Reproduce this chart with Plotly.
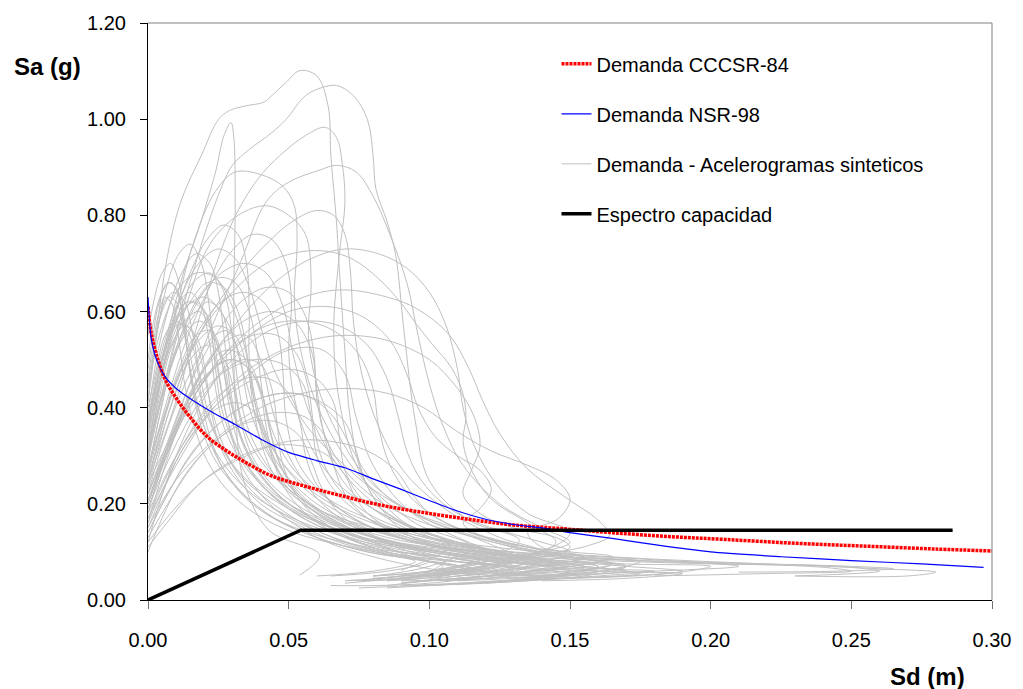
import plotly.graph_objects as go

# ---------------- axis ticks ----------------
x_ticks = [0.00, 0.05, 0.10, 0.15, 0.20, 0.25, 0.30]
y_ticks = [0.00, 0.20, 0.40, 0.60, 0.80, 1.00, 1.20]

# ---------------- code spectra ----------------
sd_cccsr = [0, 0.001, 0.003, 0.006, 0.010, 0.015, 0.021, 0.028, 0.035, 0.044, 0.055, 0.068,
            0.083, 0.100, 0.115, 0.130, 0.148, 0.165, 0.185, 0.205, 0.230, 0.255, 0.280, 0.300]
sa_cccsr = [0.61, 0.56, 0.51, 0.46, 0.42, 0.38, 0.34, 0.31, 0.285, 0.258, 0.238, 0.218,
            0.197, 0.180, 0.167, 0.156, 0.148, 0.140, 0.132, 0.126, 0.118, 0.112, 0.106, 0.102]

sd_nsr = [0, 0.001, 0.003, 0.006, 0.010, 0.016, 0.023, 0.031, 0.040, 0.050, 0.060, 0.070, 0.080,
          0.090, 0.100, 0.110, 0.120, 0.130, 0.140, 0.150, 0.165, 0.180, 0.200, 0.225, 0.250, 0.275, 0.297]
sa_nsr = [0.63, 0.55, 0.50, 0.465, 0.44, 0.415, 0.39, 0.365, 0.335, 0.307, 0.290, 0.275, 0.252,
          0.230, 0.207, 0.185, 0.168, 0.157, 0.150, 0.140, 0.128, 0.115, 0.100, 0.090, 0.082, 0.075, 0.068]

# capacity spectrum
sd_cap = [0, 0.0543, 0.286]
sa_cap = [0, 0.145, 0.145]

# ---------------- synthetic accelerogram demand curves ----------------
sd_g01 = [0, 0.007, 0.012, 0.019, 0.025, 0.029, 0.035, 0.041, 0.044, 0.049, 0.054, 0.060, 0.064, 0.065, 0.067, 0.068, 0.070, 0.072, 0.077, 0.090, 0.107, 0.097, 0.072]
sa_g01 = [0.414, 0.718, 0.834, 0.925, 0.999, 1.018, 1.028, 1.035, 1.049, 1.076, 1.101, 1.090, 1.028, 0.925, 0.786, 0.689, 0.517, 0.372, 0.248, 0.145, 0.093, 0.052, 0.041]
sd_g02 = [0, 0.006, 0.015, 0.025, 0.030, 0.036, 0.044, 0.049, 0.056, 0.062, 0.067, 0.073, 0.078, 0.080, 0.081, 0.085, 0.088, 0.091, 0.095, 0.100, 0.114, 0.132, 0.118, 0.090]
sa_g02 = [0.310, 0.455, 0.662, 0.842, 0.904, 0.937, 0.972, 0.999, 1.049, 1.066, 1.070, 1.049, 0.999, 0.925, 0.855, 0.786, 0.718, 0.559, 0.372, 0.248, 0.166, 0.124, 0.083, 0.052]
sd_g03 = [0, 0.012, 0.018, 0.024, 0.027, 0.0295, 0.0305, 0.031, 0.0305, 0.031, 0.034, 0.043, 0.061, 0.054]
sa_g03 = [0.372, 0.668, 0.772, 0.890, 0.966, 0.993, 0.962, 0.828, 0.621, 0.414, 0.248, 0.145, 0.093, 0.052]
sd_g04 = [0, 0.010, 0.020, 0.030, 0.039, 0.047, 0.056, 0.063, 0.067, 0.069, 0.070, 0.068, 0.066, 0.068, 0.075, 0.090, 0.107, 0.090]
sa_g04 = [0.248, 0.414, 0.621, 0.786, 0.875, 0.925, 0.966, 0.983, 0.962, 0.910, 0.828, 0.718, 0.559, 0.414, 0.269, 0.166, 0.114, 0.062]
sd_g05 = [0, 0.010, 0.022, 0.033, 0.042, 0.050, 0.061, 0.067, 0.074, 0.080, 0.086, 0.092, 0.096, 0.100, 0.105, 0.112, 0.125, 0.140, 0.150, 0.130, 0.110]
sa_g05 = [0.207, 0.372, 0.559, 0.704, 0.828, 0.869, 0.894, 0.904, 0.890, 0.840, 0.760, 0.660, 0.550, 0.450, 0.360, 0.280, 0.200, 0.150, 0.120, 0.090, 0.070]
sd_g06 = [0, 0.008, 0.016, 0.024, 0.031, 0.040, 0.048, 0.052, 0.053, 0.052, 0.055, 0.062, 0.075, 0.095, 0.115, 0.100, 0.080]
sa_g06 = [0.35, 0.55, 0.74, 0.85, 0.89, 0.885, 0.86, 0.82, 0.74, 0.62, 0.50, 0.38, 0.26, 0.16, 0.11, 0.07, 0.05]
sd_g07 = [0, 0.006, 0.014, 0.022, 0.032, 0.042, 0.050, 0.056, 0.058, 0.057, 0.060, 0.068, 0.080, 0.098, 0.120, 0.130, 0.110, 0.090]
sa_g07 = [0.30, 0.45, 0.62, 0.74, 0.80, 0.82, 0.80, 0.76, 0.66, 0.55, 0.45, 0.34, 0.24, 0.17, 0.12, 0.09, 0.06, 0.045]
sd_g08 = [0, 0.008, 0.018, 0.030, 0.042, 0.052, 0.060, 0.066, 0.070, 0.072, 0.073, 0.076, 0.082, 0.092, 0.108, 0.125, 0.140, 0.120, 0.095]
sa_g08 = [0.25, 0.40, 0.55, 0.66, 0.74, 0.79, 0.81, 0.80, 0.76, 0.68, 0.58, 0.47, 0.36, 0.26, 0.18, 0.13, 0.10, 0.07, 0.05]
sd_g09 = [0, 0.010, 0.020, 0.032, 0.045, 0.058, 0.070, 0.082, 0.092, 0.100, 0.106, 0.110, 0.112, 0.116, 0.124, 0.135, 0.150, 0.140, 0.120, 0.100]
sa_g09 = [0.22, 0.36, 0.48, 0.58, 0.66, 0.71, 0.73, 0.72, 0.69, 0.64, 0.57, 0.48, 0.40, 0.32, 0.24, 0.18, 0.14, 0.10, 0.08, 0.06]
sd_g10 = [0, 0.008, 0.018, 0.030, 0.045, 0.058, 0.070, 0.085, 0.0955, 0.107, 0.114, 0.119, 0.125, 0.1345, 0.149, 0.160, 0.164, 0.157, 0.139, 0.120]
sa_g10 = [0.20, 0.32, 0.44, 0.53, 0.60, 0.635, 0.645, 0.63, 0.606, 0.552, 0.482, 0.414, 0.346, 0.275, 0.211, 0.166, 0.134, 0.114, 0.093, 0.075]
sd_g11 = [0, 0.008, 0.018, 0.030, 0.042, 0.054, 0.064, 0.073, 0.082, 0.0895, 0.0955, 0.101, 0.108, 0.112, 0.113, 0.112, 0.115, 0.122, 0.135, 0.145, 0.130, 0.110]
sa_g11 = [0.28, 0.42, 0.55, 0.64, 0.70, 0.724, 0.725, 0.708, 0.668, 0.621, 0.573, 0.532, 0.482, 0.428, 0.379, 0.330, 0.270, 0.210, 0.160, 0.120, 0.085, 0.060]
sd_g12 = [0, 0.010, 0.022, 0.036, 0.052, 0.068, 0.085, 0.100, 0.110, 0.116, 0.118, 0.115, 0.112, 0.118, 0.130, 0.145, 0.150, 0.130, 0.105]
sa_g12 = [0.18, 0.30, 0.40, 0.48, 0.53, 0.55, 0.54, 0.50, 0.44, 0.38, 0.32, 0.27, 0.22, 0.18, 0.15, 0.13, 0.11, 0.08, 0.06]
sd_g13 = [0, 0.010, 0.025, 0.040, 0.055, 0.070, 0.085, 0.098, 0.110, 0.122, 0.135, 0.145, 0.150, 0.146, 0.135, 0.140, 0.155, 0.140, 0.110]
sa_g13 = [0.15, 0.25, 0.34, 0.40, 0.43, 0.44, 0.43, 0.40, 0.35, 0.31, 0.28, 0.25, 0.21, 0.17, 0.14, 0.11, 0.09, 0.07, 0.05]
sd_g14 = [0, 0.004, 0.010, 0.016, 0.022, 0.027, 0.030, 0.032, 0.036, 0.045, 0.060, 0.080, 0.100, 0.130, 0.160, 0.190, 0.210, 0.180, 0.140]
sa_g14 = [0.30, 0.45, 0.58, 0.66, 0.68, 0.64, 0.55, 0.45, 0.35, 0.26, 0.19, 0.15, 0.12, 0.10, 0.09, 0.08, 0.07, 0.06, 0.05]
sd_g15 = [0, 0.003, 0.007, 0.011, 0.015, 0.019, 0.022, 0.024, 0.027, 0.034, 0.045, 0.060, 0.080, 0.110, 0.150, 0.200, 0.245, 0.260, 0.230]
sa_g15 = [0.42, 0.55, 0.66, 0.72, 0.74, 0.70, 0.60, 0.48, 0.38, 0.29, 0.22, 0.17, 0.13, 0.10, 0.085, 0.075, 0.07, 0.06, 0.05]
sd_g16 = [0, 0.005, 0.012, 0.020, 0.028, 0.034, 0.040, 0.050, 0.065, 0.085, 0.110, 0.140, 0.180, 0.220, 0.260, 0.280, 0.270, 0.230]
sa_g16 = [0.35, 0.50, 0.60, 0.63, 0.58, 0.47, 0.36, 0.27, 0.20, 0.15, 0.12, 0.10, 0.085, 0.075, 0.065, 0.058, 0.05, 0.05]
sd_g17 = [0, 0.004, 0.010, 0.018, 0.026, 0.034, 0.040, 0.044, 0.046, 0.048, 0.055, 0.068, 0.085, 0.100, 0.120, 0.105, 0.085]
sa_g17 = [0.12, 0.20, 0.30, 0.40, 0.47, 0.50, 0.49, 0.44, 0.36, 0.28, 0.20, 0.14, 0.10, 0.085, 0.07, 0.05, 0.04]
sd_g18 = [0, 0.003, 0.007, 0.012, 0.017, 0.022, 0.025, 0.028, 0.033, 0.042, 0.055, 0.072, 0.090, 0.110, 0.130, 0.115, 0.090]
sa_g18 = [0.28, 0.40, 0.52, 0.60, 0.62, 0.58, 0.48, 0.38, 0.30, 0.23, 0.17, 0.13, 0.10, 0.08, 0.065, 0.045, 0.04]
sd_g19 = [0, 0.002, 0.005, 0.009, 0.013, 0.016, 0.019, 0.023, 0.030, 0.040, 0.055, 0.070, 0.090, 0.105, 0.090, 0.070]
sa_g19 = [0.45, 0.52, 0.60, 0.64, 0.62, 0.55, 0.45, 0.36, 0.28, 0.22, 0.16, 0.12, 0.09, 0.07, 0.05, 0.04]
sd_g20 = [0, 0.002, 0.005, 0.008, 0.011, 0.013, 0.016, 0.020, 0.026, 0.035, 0.050, 0.065, 0.080, 0.100, 0.120, 0.100]
sa_g20 = [0.55, 0.62, 0.68, 0.70, 0.66, 0.58, 0.48, 0.40, 0.32, 0.25, 0.19, 0.15, 0.12, 0.10, 0.08, 0.06]
sd_g21 = [0, 0.006, 0.014, 0.024, 0.034, 0.044, 0.052, 0.058, 0.060, 0.062, 0.066, 0.075, 0.090, 0.105, 0.120, 0.135, 0.120, 0.100]
sa_g21 = [0.20, 0.30, 0.42, 0.52, 0.58, 0.60, 0.58, 0.52, 0.44, 0.36, 0.28, 0.21, 0.16, 0.12, 0.10, 0.08, 0.06, 0.05]
sd_g22 = [0, 0.006, 0.014, 0.025, 0.038, 0.050, 0.060, 0.066, 0.068, 0.070, 0.076, 0.088, 0.100, 0.115, 0.130, 0.145, 0.130, 0.110]
sa_g22 = [0.16, 0.24, 0.33, 0.41, 0.46, 0.48, 0.46, 0.41, 0.34, 0.27, 0.21, 0.16, 0.13, 0.11, 0.09, 0.075, 0.055, 0.045]
sd_g23 = [0, 0.004, 0.009, 0.015, 0.021, 0.027, 0.032, 0.035, 0.037, 0.040, 0.046, 0.058, 0.075, 0.095, 0.115, 0.130, 0.110, 0.090]
sa_g23 = [0.32, 0.44, 0.55, 0.62, 0.66, 0.65, 0.60, 0.52, 0.42, 0.33, 0.25, 0.19, 0.14, 0.11, 0.09, 0.07, 0.05, 0.035]
sd_g24 = [0, 0.003, 0.007, 0.012, 0.017, 0.022, 0.025, 0.027, 0.029, 0.032, 0.038, 0.048, 0.062, 0.080, 0.100, 0.120, 0.100, 0.080]
sa_g24 = [0.38, 0.50, 0.60, 0.68, 0.72, 0.70, 0.64, 0.55, 0.45, 0.36, 0.28, 0.21, 0.16, 0.12, 0.10, 0.08, 0.06, 0.05]
sd_g25 = [0, 0.005, 0.011, 0.018, 0.026, 0.034, 0.041, 0.046, 0.048, 0.049, 0.053, 0.062, 0.076, 0.095, 0.115, 0.140, 0.160, 0.140, 0.110]
sa_g25 = [0.25, 0.36, 0.47, 0.56, 0.62, 0.64, 0.62, 0.56, 0.47, 0.38, 0.29, 0.22, 0.16, 0.12, 0.10, 0.08, 0.07, 0.05, 0.04]
sd_g26 = [0, 0.002, 0.005, 0.008, 0.011, 0.013, 0.015, 0.018, 0.023, 0.032, 0.045, 0.060, 0.078, 0.095, 0.080, 0.060]
sa_g26 = [0.50, 0.58, 0.64, 0.66, 0.63, 0.56, 0.47, 0.38, 0.30, 0.23, 0.17, 0.13, 0.10, 0.08, 0.06, 0.05]
sd_g27 = [0, 0.008, 0.018, 0.030, 0.042, 0.055, 0.066, 0.075, 0.080, 0.082, 0.086, 0.094, 0.106, 0.120, 0.135, 0.150, 0.165, 0.150, 0.120]
sa_g27 = [0.22, 0.33, 0.44, 0.52, 0.57, 0.58, 0.56, 0.51, 0.44, 0.36, 0.28, 0.21, 0.16, 0.13, 0.11, 0.09, 0.075, 0.055, 0.045]
sd_g28 = [0, 0.007, 0.016, 0.028, 0.040, 0.052, 0.062, 0.070, 0.074, 0.077, 0.083, 0.094, 0.110, 0.125, 0.140, 0.125, 0.100]
sa_g28 = [0.14, 0.22, 0.31, 0.38, 0.42, 0.43, 0.41, 0.37, 0.31, 0.25, 0.19, 0.15, 0.12, 0.10, 0.08, 0.06, 0.045]
sd_g29 = [0, 0.002, 0.005, 0.009, 0.013, 0.017, 0.020, 0.022, 0.025, 0.031, 0.040, 0.052, 0.068, 0.085, 0.100, 0.085, 0.065]
sa_g29 = [0.30, 0.38, 0.47, 0.54, 0.57, 0.55, 0.49, 0.41, 0.33, 0.26, 0.20, 0.16, 0.12, 0.095, 0.08, 0.06, 0.05]
sd_g30 = [0, 0.004, 0.009, 0.016, 0.023, 0.030, 0.036, 0.040, 0.042, 0.045, 0.050, 0.060, 0.075, 0.092, 0.110, 0.125, 0.110, 0.090]
sa_g30 = [0.18, 0.26, 0.35, 0.43, 0.48, 0.50, 0.48, 0.43, 0.36, 0.29, 0.23, 0.18, 0.14, 0.11, 0.09, 0.075, 0.055, 0.04]
sd_g31 = [0, 0.003, 0.006, 0.010, 0.014, 0.017, 0.019, 0.022, 0.027, 0.035, 0.046, 0.060, 0.078, 0.095, 0.110, 0.095, 0.075]
sa_g31 = [0.40, 0.48, 0.55, 0.58, 0.56, 0.50, 0.42, 0.34, 0.27, 0.21, 0.165, 0.13, 0.10, 0.085, 0.07, 0.05, 0.04]
sd_g32 = [0, 0.005, 0.012, 0.022, 0.034, 0.046, 0.056, 0.063, 0.066, 0.070, 0.078, 0.090, 0.105, 0.120, 0.135, 0.120, 0.095]
sa_g32 = [0.10, 0.17, 0.25, 0.32, 0.37, 0.39, 0.38, 0.34, 0.28, 0.22, 0.17, 0.135, 0.11, 0.09, 0.07, 0.05, 0.04]
sd_g33 = [0, 0.006, 0.013, 0.021, 0.029, 0.037, 0.044, 0.049, 0.051, 0.050, 0.052, 0.057, 0.066, 0.080, 0.098, 0.118, 0.135, 0.120, 0.100]
sa_g33 = [0.27, 0.40, 0.53, 0.64, 0.72, 0.76, 0.75, 0.70, 0.62, 0.52, 0.42, 0.33, 0.25, 0.19, 0.14, 0.11, 0.09, 0.065, 0.05]
sd_g34 = [0, 0.004, 0.009, 0.015, 0.021, 0.027, 0.032, 0.035, 0.036, 0.036, 0.039, 0.045, 0.056, 0.072, 0.090, 0.110, 0.130, 0.110, 0.090]
sa_g34 = [0.33, 0.46, 0.58, 0.68, 0.75, 0.78, 0.76, 0.70, 0.60, 0.50, 0.40, 0.31, 0.23, 0.17, 0.13, 0.10, 0.08, 0.06, 0.045]
sd_g35 = [0, 0.010, 0.022, 0.036, 0.050, 0.064, 0.076, 0.086, 0.092, 0.096, 0.102, 0.110, 0.118, 0.122, 0.118, 0.112, 0.120, 0.135, 0.150, 0.165, 0.150, 0.125]
sa_g35 = [0.24, 0.36, 0.47, 0.55, 0.60, 0.61, 0.59, 0.54, 0.47, 0.40, 0.34, 0.30, 0.27, 0.23, 0.19, 0.16, 0.13, 0.11, 0.10, 0.09, 0.07, 0.055]
sd_g36 = [0, 0.005, 0.011, 0.018, 0.025, 0.031, 0.036, 0.040, 0.044, 0.050, 0.058, 0.068, 0.080, 0.095, 0.115, 0.135, 0.155, 0.175, 0.160, 0.130]
sa_g36 = [0.36, 0.50, 0.62, 0.70, 0.73, 0.71, 0.65, 0.57, 0.49, 0.42, 0.35, 0.29, 0.23, 0.18, 0.14, 0.11, 0.09, 0.08, 0.06, 0.05]
sd_g37 = [0, 0.006, 0.015, 0.026, 0.038, 0.048, 0.055, 0.058, 0.060, 0.066, 0.078, 0.095, 0.120, 0.150, 0.180, 0.210, 0.240, 0.250, 0.220, 0.180]
sa_g37 = [0.20, 0.30, 0.40, 0.47, 0.50, 0.49, 0.45, 0.38, 0.30, 0.23, 0.17, 0.13, 0.105, 0.09, 0.08, 0.075, 0.068, 0.06, 0.055, 0.05]
sd_g38 = [0, 0.002, 0.004, 0.007, 0.010, 0.012, 0.014, 0.016, 0.020, 0.026, 0.035, 0.048, 0.065, 0.085, 0.105, 0.120, 0.100, 0.080]
sa_g38 = [0.48, 0.56, 0.62, 0.66, 0.65, 0.60, 0.52, 0.44, 0.36, 0.29, 0.23, 0.18, 0.14, 0.11, 0.09, 0.075, 0.055, 0.045]
sd_g39 = [0, 0.008, 0.020, 0.035, 0.050, 0.065, 0.078, 0.088, 0.094, 0.100, 0.110, 0.125, 0.140, 0.155, 0.170, 0.155, 0.130]
sa_g39 = [0.12, 0.18, 0.25, 0.30, 0.33, 0.33, 0.31, 0.27, 0.22, 0.18, 0.15, 0.12, 0.10, 0.085, 0.07, 0.05, 0.04]
sd_g40 = [0, 0.004, 0.009, 0.015, 0.021, 0.026, 0.029, 0.031, 0.034, 0.040, 0.050, 0.065, 0.085, 0.110, 0.140, 0.170, 0.200, 0.185, 0.150]
sa_g40 = [0.26, 0.38, 0.50, 0.58, 0.62, 0.60, 0.53, 0.44, 0.36, 0.29, 0.23, 0.175, 0.135, 0.105, 0.085, 0.075, 0.07, 0.055, 0.045]
sd_g41 = [0, 0.006, 0.014, 0.022, 0.028, 0.032, 0.036, 0.045, 0.060, 0.080, 0.100, 0.120, 0.140, 0.120, 0.095, 0.075]
sa_g41 = [0.22, 0.34, 0.46, 0.54, 0.56, 0.52, 0.40, 0.28, 0.18, 0.12, 0.08, 0.06, 0.045, 0.035, 0.03, 0.025]
sd_g42 = [0, 0.005, 0.012, 0.020, 0.028, 0.035, 0.040, 0.044, 0.050, 0.062, 0.080, 0.100, 0.125, 0.150, 0.130, 0.100, 0.085]
sa_g42 = [0.16, 0.26, 0.38, 0.48, 0.54, 0.55, 0.50, 0.40, 0.30, 0.20, 0.13, 0.09, 0.07, 0.055, 0.04, 0.03, 0.025]
sd_g43 = [0, 0.003, 0.008, 0.014, 0.020, 0.024, 0.028, 0.034, 0.045, 0.060, 0.080, 0.100, 0.118, 0.100, 0.080, 0.065]
sa_g43 = [0.36, 0.46, 0.56, 0.62, 0.60, 0.50, 0.38, 0.27, 0.19, 0.13, 0.09, 0.065, 0.05, 0.035, 0.03, 0.03]
sd_g44 = [0, 0.010, 0.022, 0.036, 0.050, 0.062, 0.070, 0.074, 0.080, 0.092, 0.110, 0.130, 0.155, 0.175, 0.150, 0.120]
sa_g44 = [0.17, 0.28, 0.39, 0.47, 0.52, 0.52, 0.47, 0.38, 0.28, 0.19, 0.13, 0.09, 0.07, 0.055, 0.045, 0.035]
sd_g45 = [0, 0.004, 0.010, 0.017, 0.024, 0.030, 0.035, 0.038, 0.042, 0.050, 0.065, 0.085, 0.105, 0.130, 0.160, 0.190, 0.170, 0.140]
sa_g45 = [0.44, 0.55, 0.64, 0.68, 0.67, 0.61, 0.51, 0.41, 0.32, 0.24, 0.17, 0.12, 0.09, 0.07, 0.06, 0.055, 0.045, 0.04]
sd_g46 = [0, 0.006, 0.014, 0.024, 0.034, 0.042, 0.048, 0.052, 0.058, 0.070, 0.088, 0.110, 0.130, 0.150, 0.135, 0.110, 0.090]
sa_g46 = [0.30, 0.45, 0.58, 0.67, 0.70, 0.68, 0.61, 0.50, 0.38, 0.26, 0.17, 0.12, 0.085, 0.06, 0.045, 0.035, 0.03]
sd_g47 = [0, 0.005, 0.011, 0.017, 0.022, 0.026, 0.029, 0.033, 0.040, 0.050, 0.062, 0.075, 0.090, 0.105, 0.120, 0.135, 0.120, 0.100, 0.085]
sa_g47 = [0.24, 0.36, 0.48, 0.55, 0.56, 0.50, 0.40, 0.31, 0.24, 0.19, 0.15, 0.12, 0.10, 0.09, 0.075, 0.06, 0.045, 0.04, 0.03]
sd_g48 = [0, 0.006, 0.013, 0.020, 0.028, 0.035, 0.040, 0.043, 0.047, 0.055, 0.068, 0.085, 0.100, 0.120, 0.140, 0.160, 0.150, 0.120, 0.100]
sa_g48 = [0.19, 0.29, 0.40, 0.48, 0.52, 0.50, 0.44, 0.36, 0.28, 0.21, 0.16, 0.125, 0.11, 0.10, 0.085, 0.07, 0.055, 0.05, 0.04]
sd_g49 = [0, 0.003, 0.006, 0.010, 0.014, 0.018, 0.021, 0.025, 0.031, 0.040, 0.052, 0.066, 0.080, 0.095, 0.110, 0.125, 0.110, 0.090, 0.075]
sa_g49 = [0.34, 0.44, 0.52, 0.57, 0.57, 0.52, 0.44, 0.35, 0.27, 0.21, 0.165, 0.13, 0.105, 0.09, 0.08, 0.07, 0.055, 0.05, 0.04]
sd_g50 = [0, 0.007, 0.016, 0.026, 0.036, 0.046, 0.054, 0.058, 0.062, 0.068, 0.078, 0.090, 0.105, 0.120, 0.140, 0.160, 0.140, 0.115, 0.095]
sa_g50 = [0.13, 0.20, 0.28, 0.34, 0.37, 0.37, 0.34, 0.29, 0.23, 0.18, 0.14, 0.115, 0.10, 0.085, 0.07, 0.06, 0.045, 0.035, 0.03]
sd_g51 = [0, 0.004, 0.008, 0.013, 0.018, 0.023, 0.027, 0.030, 0.034, 0.041, 0.051, 0.064, 0.080, 0.098, 0.115, 0.130, 0.145, 0.130, 0.105]
sa_g51 = [0.27, 0.38, 0.48, 0.55, 0.58, 0.56, 0.49, 0.40, 0.32, 0.25, 0.195, 0.155, 0.125, 0.105, 0.09, 0.08, 0.065, 0.05, 0.04]
sd_g52 = [0, 0.008, 0.017, 0.027, 0.037, 0.046, 0.053, 0.057, 0.059, 0.062, 0.068, 0.078, 0.092, 0.108, 0.125, 0.140, 0.155, 0.140, 0.120]
sa_g52 = [0.21, 0.32, 0.43, 0.51, 0.55, 0.55, 0.51, 0.44, 0.36, 0.29, 0.23, 0.18, 0.145, 0.12, 0.10, 0.085, 0.07, 0.06, 0.05]
sd_g53 = [0, 0.005, 0.011, 0.018, 0.025, 0.032, 0.038, 0.042, 0.045, 0.050, 0.058, 0.070, 0.085, 0.100, 0.115, 0.100, 0.080, 0.070]
sa_g53 = [0.15, 0.22, 0.30, 0.36, 0.40, 0.41, 0.39, 0.34, 0.28, 0.22, 0.17, 0.13, 0.10, 0.08, 0.065, 0.05, 0.04, 0.035]
sd_g54 = [0, 0.002, 0.004, 0.007, 0.010, 0.013, 0.016, 0.020, 0.026, 0.034, 0.045, 0.060, 0.078, 0.095, 0.115, 0.135, 0.155, 0.135, 0.110]
sa_g54 = [0.41, 0.50, 0.58, 0.63, 0.62, 0.55, 0.45, 0.36, 0.28, 0.22, 0.17, 0.135, 0.11, 0.095, 0.085, 0.075, 0.065, 0.055, 0.045]
sd_g55 = [0, 0.005, 0.011, 0.018, 0.025, 0.031, 0.036, 0.039, 0.041, 0.045, 0.052, 0.064, 0.080, 0.098, 0.115, 0.130, 0.145, 0.130, 0.110, 0.090]
sa_g55 = [0.29, 0.42, 0.54, 0.63, 0.67, 0.66, 0.60, 0.51, 0.42, 0.34, 0.27, 0.21, 0.165, 0.13, 0.11, 0.095, 0.08, 0.065, 0.055, 0.045]
sd_g56 = [0, 0.004, 0.009, 0.015, 0.021, 0.026, 0.030, 0.033, 0.037, 0.044, 0.055, 0.070, 0.088, 0.105, 0.120, 0.140, 0.160, 0.180, 0.160, 0.130]
sa_g56 = [0.23, 0.32, 0.42, 0.50, 0.53, 0.51, 0.45, 0.37, 0.30, 0.24, 0.19, 0.15, 0.12, 0.10, 0.085, 0.075, 0.065, 0.06, 0.05, 0.04]
sd_g57 = [0, 0.006, 0.014, 0.024, 0.034, 0.043, 0.050, 0.054, 0.056, 0.060, 0.068, 0.080, 0.095, 0.112, 0.130, 0.148, 0.130, 0.110, 0.090]
sa_g57 = [0.17, 0.25, 0.34, 0.42, 0.46, 0.46, 0.43, 0.37, 0.30, 0.24, 0.19, 0.15, 0.12, 0.10, 0.085, 0.07, 0.055, 0.045, 0.035]
sd_g58 = [0, 0.003, 0.007, 0.011, 0.015, 0.019, 0.022, 0.024, 0.027, 0.033, 0.042, 0.054, 0.070, 0.088, 0.105, 0.120, 0.135, 0.150, 0.135, 0.110]
sa_g58 = [0.37, 0.47, 0.56, 0.62, 0.64, 0.61, 0.53, 0.44, 0.36, 0.29, 0.23, 0.18, 0.14, 0.115, 0.10, 0.09, 0.08, 0.07, 0.06, 0.05]
sd_g59 = [0, 0.008, 0.018, 0.030, 0.043, 0.055, 0.064, 0.070, 0.074, 0.080, 0.090, 0.104, 0.120, 0.138, 0.155, 0.170, 0.150, 0.125, 0.100]
sa_g59 = [0.11, 0.17, 0.24, 0.29, 0.32, 0.32, 0.30, 0.26, 0.21, 0.17, 0.14, 0.115, 0.10, 0.085, 0.07, 0.06, 0.05, 0.04, 0.03]
sd_g60 = [0, 0.004, 0.008, 0.013, 0.018, 0.022, 0.026, 0.029, 0.033, 0.039, 0.048, 0.060, 0.075, 0.092, 0.110, 0.128, 0.112, 0.095, 0.080]
sa_g60 = [0.31, 0.42, 0.52, 0.58, 0.60, 0.57, 0.50, 0.42, 0.34, 0.27, 0.21, 0.165, 0.13, 0.11, 0.095, 0.08, 0.065, 0.055, 0.05]
sd_g61 = [0, 0.006, 0.013, 0.021, 0.029, 0.036, 0.041, 0.044, 0.048, 0.056, 0.068, 0.085, 0.105, 0.130, 0.160, 0.190, 0.220, 0.250, 0.265, 0.245, 0.210]
sa_g61 = [0.20, 0.30, 0.40, 0.47, 0.50, 0.48, 0.42, 0.34, 0.27, 0.21, 0.165, 0.13, 0.11, 0.095, 0.085, 0.08, 0.075, 0.07, 0.065, 0.06, 0.058]
sd_g62 = [0, 0.005, 0.011, 0.018, 0.025, 0.031, 0.035, 0.038, 0.042, 0.049, 0.060, 0.075, 0.093, 0.112, 0.130, 0.150, 0.170, 0.190, 0.170, 0.140]
sa_g62 = [0.26, 0.37, 0.47, 0.54, 0.57, 0.55, 0.49, 0.41, 0.33, 0.26, 0.20, 0.155, 0.125, 0.105, 0.09, 0.08, 0.07, 0.06, 0.05, 0.045]
sd_g63 = [0, 0.008, 0.018, 0.030, 0.043, 0.056, 0.068, 0.078, 0.085, 0.089, 0.092, 0.097, 0.105, 0.115, 0.128, 0.140, 0.150, 0.140, 0.120, 0.100]
sa_g63 = [0.19, 0.30, 0.41, 0.50, 0.56, 0.58, 0.57, 0.53, 0.46, 0.38, 0.31, 0.25, 0.20, 0.165, 0.14, 0.12, 0.10, 0.08, 0.065, 0.05]
sd_g64 = [0, 0.006, 0.014, 0.024, 0.036, 0.048, 0.058, 0.066, 0.072, 0.078, 0.086, 0.098, 0.112, 0.126, 0.140, 0.155, 0.170, 0.155, 0.130]
sa_g64 = [0.14, 0.21, 0.29, 0.36, 0.41, 0.43, 0.42, 0.38, 0.32, 0.26, 0.21, 0.17, 0.14, 0.115, 0.095, 0.08, 0.07, 0.055, 0.045]
sd_g65 = [0, 0.002, 0.004, 0.006, 0.009, 0.011, 0.013, 0.016, 0.021, 0.028, 0.038, 0.052, 0.068, 0.085, 0.100, 0.115, 0.100, 0.085]
sa_g65 = [0.46, 0.54, 0.60, 0.63, 0.61, 0.54, 0.45, 0.37, 0.29, 0.23, 0.18, 0.14, 0.115, 0.095, 0.08, 0.065, 0.05, 0.04]
sd_g66 = [0, 0.007, 0.015, 0.024, 0.033, 0.042, 0.050, 0.056, 0.059, 0.060, 0.063, 0.070, 0.081, 0.096, 0.113, 0.130, 0.148, 0.165, 0.150, 0.125]
sa_g66 = [0.22, 0.33, 0.45, 0.55, 0.62, 0.65, 0.64, 0.59, 0.51, 0.42, 0.34, 0.27, 0.21, 0.165, 0.135, 0.11, 0.09, 0.075, 0.06, 0.05]

gray_curves = [
    (sd_g01, sa_g01), (sd_g02, sa_g02), (sd_g03, sa_g03), (sd_g04, sa_g04), (sd_g05, sa_g05),
    (sd_g06, sa_g06), (sd_g07, sa_g07), (sd_g08, sa_g08), (sd_g09, sa_g09), (sd_g10, sa_g10),
    (sd_g11, sa_g11), (sd_g12, sa_g12), (sd_g13, sa_g13), (sd_g14, sa_g14), (sd_g15, sa_g15),
    (sd_g16, sa_g16), (sd_g17, sa_g17), (sd_g18, sa_g18), (sd_g19, sa_g19), (sd_g20, sa_g20),
    (sd_g21, sa_g21), (sd_g22, sa_g22), (sd_g23, sa_g23), (sd_g24, sa_g24), (sd_g25, sa_g25),
    (sd_g26, sa_g26), (sd_g27, sa_g27), (sd_g28, sa_g28), (sd_g29, sa_g29), (sd_g30, sa_g30),
    (sd_g31, sa_g31), (sd_g32, sa_g32), (sd_g33, sa_g33), (sd_g34, sa_g34), (sd_g35, sa_g35),
    (sd_g36, sa_g36), (sd_g37, sa_g37), (sd_g38, sa_g38), (sd_g39, sa_g39), (sd_g40, sa_g40),
    (sd_g41, sa_g41), (sd_g42, sa_g42), (sd_g43, sa_g43), (sd_g44, sa_g44), (sd_g45, sa_g45),
    (sd_g46, sa_g46), (sd_g47, sa_g47), (sd_g48, sa_g48), (sd_g49, sa_g49), (sd_g50, sa_g50),
    (sd_g51, sa_g51), (sd_g52, sa_g52), (sd_g53, sa_g53), (sd_g54, sa_g54), (sd_g55, sa_g55),
    (sd_g56, sa_g56), (sd_g57, sa_g57), (sd_g58, sa_g58), (sd_g59, sa_g59), (sd_g60, sa_g60),
    (sd_g61, sa_g61), (sd_g62, sa_g62), (sd_g63, sa_g63), (sd_g64, sa_g64), (sd_g65, sa_g65),
    (sd_g66, sa_g66),
]

FONT = "Liberation Sans, Arial, sans-serif"
GRAY = "#c0c0c0"

fig = go.Figure()

for i, (sd, sa) in enumerate(gray_curves):
    fig.add_trace(go.Scatter(
        x=sd, y=sa, mode="lines",
        line=dict(color=GRAY, width=1, shape="spline", smoothing=1.0),
        name="Demanda - Acelerogramas sinteticos",
        legendgroup="g3", legendrank=3, showlegend=(i == 0),
        hoverinfo="skip",
    ))

fig.add_trace(go.Scatter(
    x=sd_cccsr, y=sa_cccsr, mode="lines",
    line=dict(color="#ff0000", width=3.5, dash="3px,1px", shape="spline"),
    name="Demanda CCCSR-84", legendgroup="g1", legendrank=1,
))
fig.add_trace(go.Scatter(
    x=sd_nsr, y=sa_nsr, mode="lines",
    line=dict(color="#0000ff", width=1.2, shape="spline", smoothing=0.6),
    name="Demanda NSR-98", legendgroup="g2", legendrank=2,
))
fig.add_trace(go.Scatter(
    x=sd_cap, y=sa_cap, mode="lines",
    line=dict(color="#000000", width=3.5),
    name="Espectro capacidad", legendgroup="g4", legendrank=4,
))

fig.update_layout(
    width=1023, height=689,
    margin=dict(l=148, r=30, t=20, b=89),
    plot_bgcolor="white", paper_bgcolor="white",
    font=dict(family=FONT, size=20, color="black"),
    showlegend=True,
    legend=dict(
        x=0.484, y=0.963, xanchor="left", yanchor="top",
        bgcolor="rgba(0,0,0,0)", borderwidth=0,
        traceorder="grouped", tracegroupgap=21,
        font=dict(family=FONT, size=20, color="black"),
    ),
    xaxis=dict(
        range=[0, 0.30], tickvals=x_ticks, tickformat=".2f",
        showgrid=False, zeroline=False,
        showline=True, linecolor="black", linewidth=1,
        ticks="outside", ticklen=8, tickcolor="#707070", tickwidth=1,
        ticklabelstandoff=14,
        tickfont=dict(family=FONT, size=20, color="black"),
    ),
    yaxis=dict(
        range=[0, 1.20], tickvals=y_ticks, tickformat=".2f",
        showgrid=False, zeroline=False,
        showline=True, linecolor="black", linewidth=1,
        ticks="outside", ticklen=7, tickcolor="black", tickwidth=1,
        ticklabelstandoff=10,
        tickfont=dict(family=FONT, size=20, color="black"),
    ),
    shapes=[
        dict(type="line", xref="paper", yref="paper", x0=0, x1=1, y0=1, y1=1,
             line=dict(color="#808080", width=1)),
        dict(type="line", xref="paper", yref="paper", x0=1, x1=1, y0=0, y1=1,
             line=dict(color="#808080", width=1)),
    ],
    annotations=[
        dict(text="<b>Sa (g)</b>", xref="paper", yref="paper", x=-0.1195, y=0.924,
             xanchor="center", yanchor="middle", showarrow=False,
             font=dict(family=FONT, size=24, color="black")),
        dict(text="<b>Sd (m)</b>", xref="paper", yref="paper", x=0.923, y=-0.133,
             xanchor="center", yanchor="middle", showarrow=False,
             font=dict(family=FONT, size=24, color="black")),
    ],
)

fig.write_html("out.html")
